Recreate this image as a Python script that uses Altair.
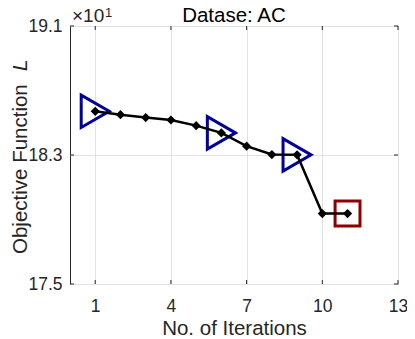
import altair as alt
import pandas as pd

# ---- data ----
iterations = [1, 2, 3, 4, 5, 6, 7, 8, 9, 10, 11]
objective = [18.571, 18.550, 18.532, 18.517, 18.482, 18.437, 18.355, 18.303, 18.301, 17.937, 17.937]
triangle_iters = [1, 6, 9]
square_iters = [11]
x_ticks = [1, 4, 7, 10, 13]
y_ticks = [17.5, 18.3, 19.1]
x_domain = [0, 13]
y_domain = [17.5, 19.1]
title_text = "Datase: AC"
x_title = "No. of Iterations"
y_title = "Objective Function"
y_title_symbol = "L"
exp_base = "×10"
exp_power = "1"

W, H = 328, 258
FONT = "Liberation Sans"
INK = "#262626"
GRID = "#e2e2e2"

df = pd.DataFrame({"iter": iterations, "obj": objective})
tri = df[df["iter"].isin(triangle_iters)]
sq = df[df["iter"].isin(square_iters)]

xs = alt.Scale(domain=x_domain, nice=False, zero=False)
ys = alt.Scale(domain=y_domain, nice=False, zero=False)

xaxis = alt.Axis(values=x_ticks, title=x_title, grid=True, gridColor=GRID, ticks=False,
                 domain=False, labelFlush=False, labelFontSize=17.5, labelPadding=13,
                 titleFontSize=20.5, titlePadding=4, labelColor=INK, titleColor=INK,
                 titleFontWeight="normal", labelFont=FONT, titleFont=FONT)
yaxis = alt.Axis(values=y_ticks, title="", grid=True, gridColor=GRID, ticks=False,
                 domain=False, labelFlush=False, labelFontSize=17.5, labelPadding=8,
                 labelColor=INK, labelFont=FONT, format=".1f")

X = alt.X("iter:Q", scale=xs, axis=xaxis)
Y = alt.Y("obj:Q", scale=ys, axis=yaxis)

tri_layer = alt.Chart(tri).mark_point(shape="triangle-right", size=1050, filled=False,
                                      strokeWidth=3, color="#00009C", opacity=1).encode(x=X, y=Y)
sq_layer = alt.Chart(sq).mark_point(shape="square", size=620, filled=False,
                                    strokeWidth=3, color="#8C0000", opacity=1).encode(x=X, y=Y)
line = alt.Chart(df).mark_line(color="black", strokeWidth=2.5).encode(x=X, y=Y)
dots = alt.Chart(df).mark_point(shape="diamond", size=85, filled=True, color="black",
                                opacity=1).encode(x=X, y=Y)

xt = pd.DataFrame({"iter": x_ticks})
yt = pd.DataFrame({"obj": y_ticks})
tick_b = alt.Chart(xt).mark_rule(color=INK, strokeWidth=1).encode(x=X, y=alt.value(H), y2=alt.value(H - 4))
tick_t = alt.Chart(xt).mark_rule(color=INK, strokeWidth=1).encode(x=X, y=alt.value(0), y2=alt.value(4))
tick_l = alt.Chart(yt).mark_rule(color=INK, strokeWidth=1).encode(y=Y, x=alt.value(0), x2=alt.value(4))
tick_r = alt.Chart(yt).mark_rule(color=INK, strokeWidth=1).encode(y=Y, x=alt.value(W), x2=alt.value(W - 4))

ylab = alt.Chart(pd.DataFrame({"t": [y_title]})).mark_text(
    angle=270, align="left", baseline="alphabetic", fontSize=20.5, font=FONT, color=INK).encode(
    text="t:N", x=alt.value(-43), y=alt.value(228))
ysym = alt.Chart(pd.DataFrame({"t": [y_title_symbol]})).mark_text(
    angle=270, align="left", baseline="alphabetic", fontSize=20.5, font=FONT, color=INK,
    fontStyle="italic").encode(text="t:N", x=alt.value(-43), y=alt.value(45))
expb = alt.Chart(pd.DataFrame({"t": [exp_base]})).mark_text(
    align="left", baseline="alphabetic", fontSize=19, font=FONT, color=INK).encode(
    text="t:N", x=alt.value(2), y=alt.value(-4))
expp = alt.Chart(pd.DataFrame({"t": [exp_power]})).mark_text(
    align="left", baseline="alphabetic", fontSize=13, font=FONT, color=INK).encode(
    text="t:N", x=alt.value(35), y=alt.value(-9))
ttl = alt.Chart(pd.DataFrame({"t": [title_text]})).mark_text(
    align="center", baseline="alphabetic", fontSize=20.5, font=FONT, color="black").encode(
    text="t:N", x=alt.value(W / 2), y=alt.value(-4))

chart = alt.layer(
    tri_layer, sq_layer, line, dots, tick_b, tick_t, tick_l, tick_r, ylab, ysym, expb, expp, ttl
).properties(
    width=W, height=H,
    padding={"left": 62, "top": 18, "right": 9, "bottom": 55},
    autosize=alt.AutoSizeParams(type="none"),
).configure(background="white").configure_view(stroke=INK, strokeWidth=1)

chart.save("out.html", embed_options={"renderer": "svg", "actions": False})
